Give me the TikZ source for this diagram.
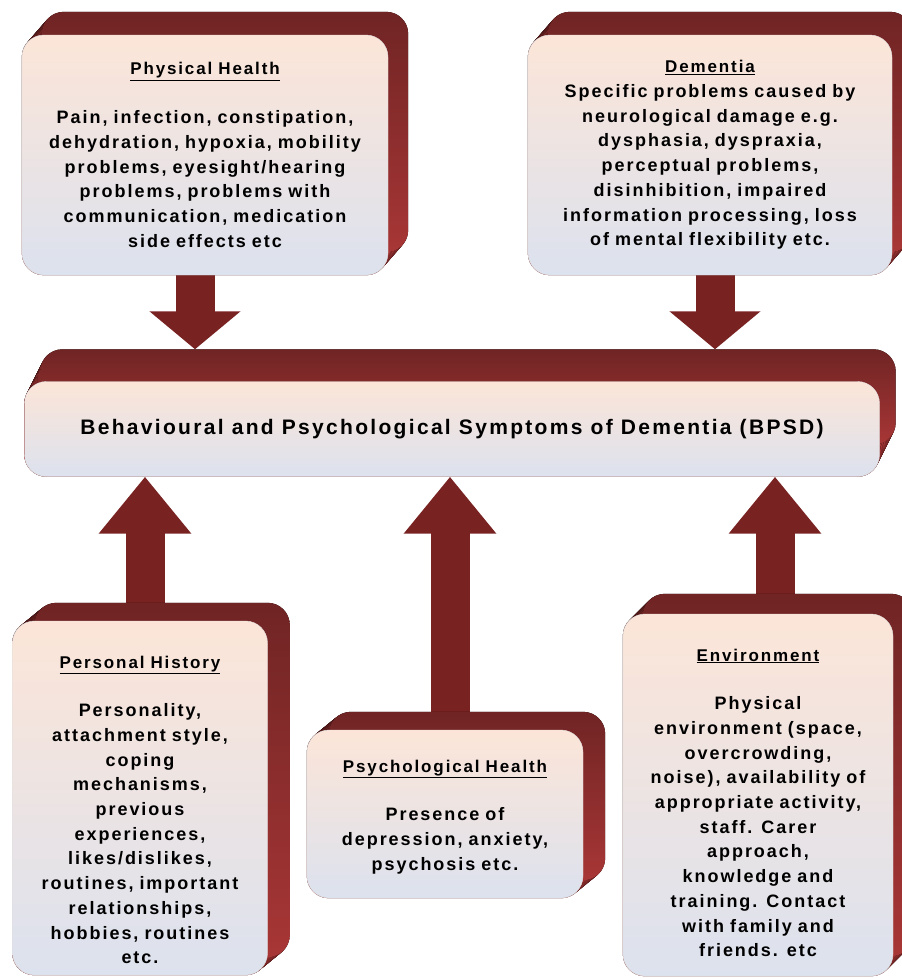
\documentclass[tikz,border=0pt]{standalone}
\usepackage{fontspec}
\setmainfont{Liberation Sans}[LetterSpace=11]
\usetikzlibrary{arrows.meta,calc,backgrounds}
\definecolor{backdark}{RGB}{112,36,36}
\definecolor{backred}{RGB}{168,54,54}
\definecolor{arrowred}{RGB}{120,34,34}
\definecolor{facetop}{RGB}{252,229,216}
\definecolor{facebottom}{RGB}{220,226,238}

\tikzset{
  panel/.style={rounded corners=22pt, draw=gray!25, top color=facetop,
    bottom color=facebottom, align=center, inner sep=0pt,
    font=\bfseries\fontsize{18}{24.7}\selectfont},
  panelback/.style={rounded corners=22pt, top color=backdark, bottom color=backred},
  bigarrow/.style={draw=arrowred, line width=39pt,
    -{Triangle[length=#1, width=89pt, color=arrowred]}},
}
% extruded back part of a panel: node, dx, dy
\newcommand{\backpanel}[3]{%
  \foreach \k in {0,...,20}
    \fill[panelback] ($(#1.south west)+(\k*#2/20,-\k*#3/20)$)
      rectangle ($(#1.north east)+(\k*#2/20,-\k*#3/20)$);
}
% underlined heading, #1 = extra height above it
\newcommand{\paneltitle}[2][0pt]{{\fontsize{17}{18}\selectfont\rule{0pt}{#1}\underline{#2}}}

\begin{document}
\begin{tikzpicture}[x=1pt, y=-1pt]
  \useasboundingbox (0,0) rectangle (902,978);

  % causes above
  \node[panel, minimum width=366pt, minimum height=240pt, text width=360pt] (phys) at (205,155)
    {\paneltitle{Physical Health}\\[24pt]
     Pain, infection, constipation,\\ dehydration, hypoxia, mobility\\
     problems, eyesight/hearing\\ problems, problems with\\
     communication, medication\\ side effects etc};
  \node[panel, minimum width=364pt, minimum height=240pt, text width=360pt] (dem) at (710,155)
    {\paneltitle{Dementia}\\
     Specific problems caused by\\ neurological damage e.g.\\
     dysphasia, dyspraxia,\\ perceptual problems,\\
     disinhibition, impaired\\ information processing, loss\\
     of mental flexibility etc.};

  % central box
  \node[panel, minimum width=855pt, minimum height=95pt, font=\bfseries\fontsize{21}{22}\selectfont] (bpsd) at (452,429)
    {Behavioural and Psychological Symptoms of Dementia (BPSD)};
  \coordinate (bpsdtop) at ([yshift=32pt]bpsd.north);

  % causes below
  \node[panel, minimum width=255pt, minimum height=354pt, text width=250pt] (hist) at (140,798)
    {\paneltitle[36pt]{Personal History}\\[24pt]
     Personality,\\ attachment style,\\ coping\\ mechanisms,\\ previous\\
     experiences,\\ likes/dislikes,\\ routines, important\\ relationships,\\
     hobbies, routines\\ etc.};
  \node[panel, minimum width=276pt, minimum height=168pt, text width=270pt] (psych) at (445,814)
    {\paneltitle[18pt]{Psychological Health}\\[24pt]
     Presence of\\ depression, anxiety,\\ psychosis etc.};
  \node[panel, minimum width=270pt, minimum height=362pt, text width=265pt] (env) at (758,795)
    {\paneltitle[28pt]{Environment}\\[24pt]
     Physical\\ environment (space,\\ overcrowding,\\ noise), availability of\\
     appropriate activity,\\ staff. Carer\\ approach,\\ knowledge and\\
     training. Contact\\ with family and\\ friends. etc};

  \begin{scope}[on background layer]
    % arrows into the central box
    \draw[bigarrow=38pt] ([xshift=-10pt]phys.south) -- ([xshift=-10pt]phys.south |- bpsdtop);
    \draw[bigarrow=38pt] ([xshift=5pt]dem.south) -- ([xshift=5pt]dem.south |- bpsdtop);
    \draw[bigarrow=57pt] ([xshift=5pt]hist.north) -- ([xshift=5pt]hist.north |- bpsd.south);
    \draw[bigarrow=57pt] ([xshift=5pt]psych.north) -- ([xshift=5pt]psych.north |- bpsd.south);
    \draw[bigarrow=57pt] ([xshift=17pt]env.north) -- ([xshift=17pt]env.north |- bpsd.south);
    % extruded backs
    \backpanel{phys}{20}{23}
    \backpanel{dem}{20}{23}
    \backpanel{bpsd}{16}{32}
    \backpanel{hist}{22}{18}
    \backpanel{psych}{22}{18}
    \backpanel{env}{20}{20}
  \end{scope}
\end{tikzpicture}
\end{document}
